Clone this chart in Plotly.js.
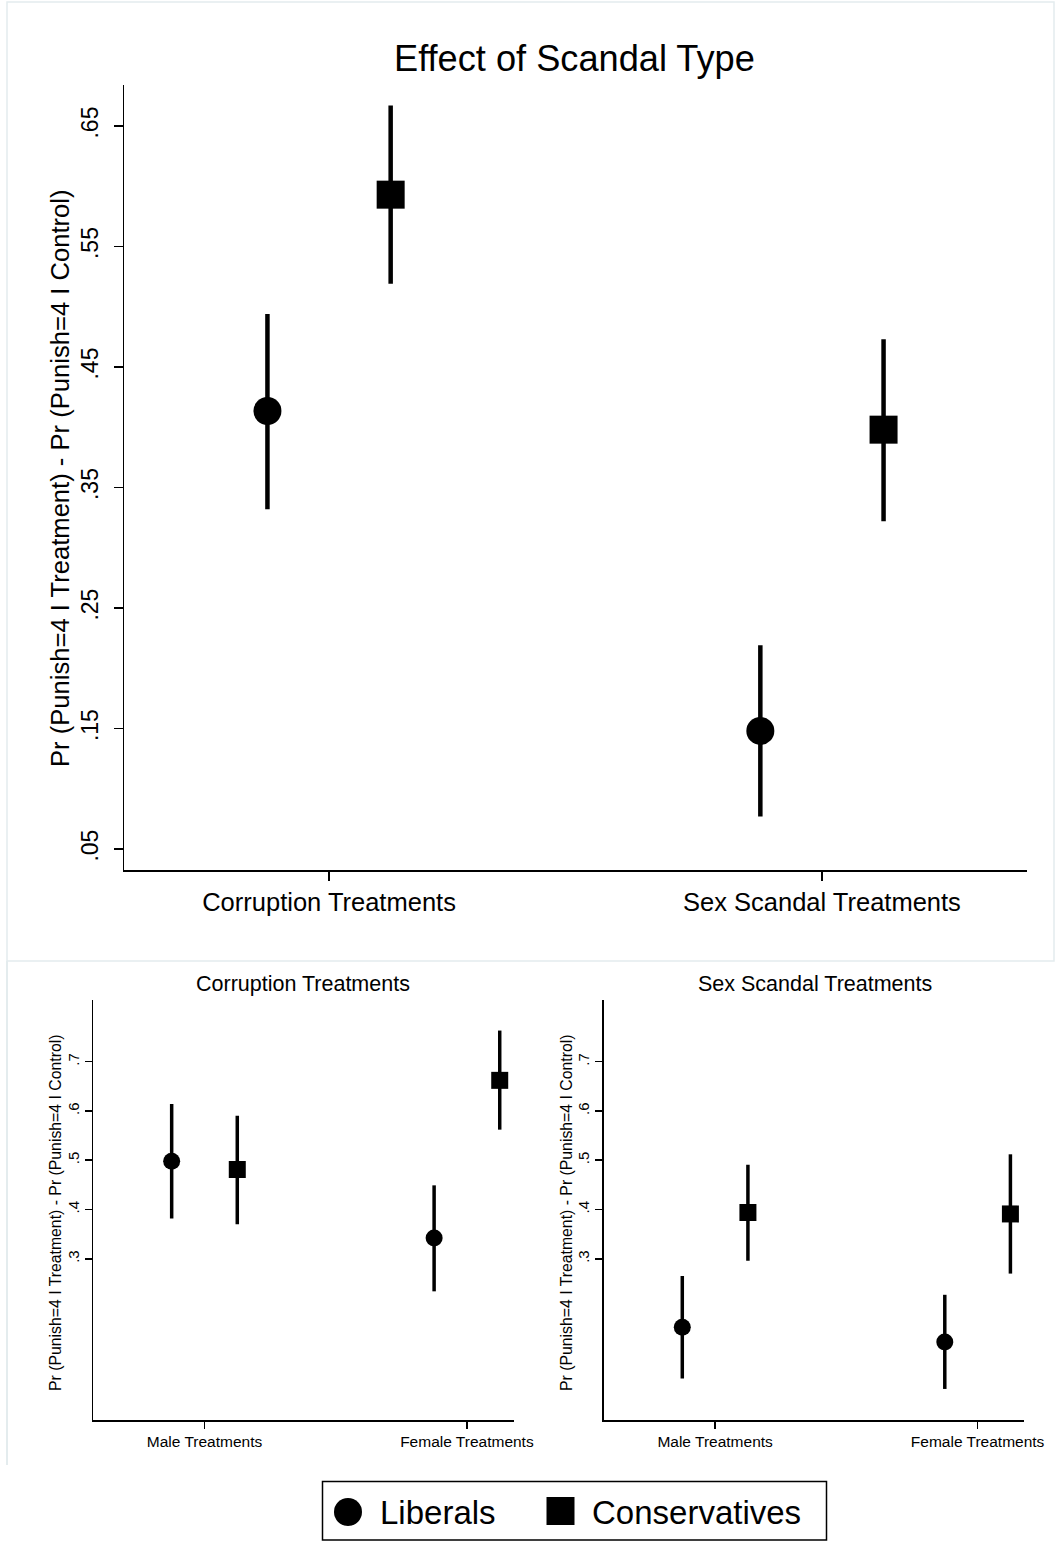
<!DOCTYPE html>
<html>
<head>
<meta charset="utf-8">
<script src="https://cdn.plot.ly/plotly-3.0.1.min.js"></script>
<style>html,body{margin:0;padding:0;background:#fff;}</style>
</head>
<body>
<div id="chart" style="width:1055px;height:1545px;"></div>
<script>
// ---------- DATA ----------
const topCategories = ["Corruption Treatments", "Sex Scandal Treatments"];
const topLib   = [0.4135, 0.148];
const topLibLo = [0.332, 0.077];
const topLibHi = [0.494, 0.219];
const topCon   = [0.593, 0.398];
const topConLo = [0.519, 0.322];
const topConHi = [0.667, 0.473];

const subCategories = ["Male Treatments", "Female Treatments"];
// Corruption treatments panel
const corrLib   = [0.498, 0.342];
const corrLibLo = [0.382, 0.234];
const corrLibHi = [0.614, 0.449];
const corrCon   = [0.481, 0.662];
const corrConLo = [0.370, 0.562];
const corrConHi = [0.590, 0.763];
// Sex scandal treatments panel
const sexLib   = [0.161, 0.131];
const sexLibLo = [0.057, 0.036];
const sexLibHi = [0.265, 0.227];
const sexCon   = [0.394, 0.391];
const sexConLo = [0.296, 0.270];
const sexConHi = [0.491, 0.512];

const topTickVals = [0.05, 0.15, 0.25, 0.35, 0.45, 0.55, 0.65];
const topTickText = [".05", ".15", ".25", ".35", ".45", ".55", ".65"];
const subTickVals = [0.3, 0.4, 0.5, 0.6, 0.7];
const subTickText = [".3", ".4", ".5", ".6", ".7"];

const seriesNames = ["Liberals", "Conservatives"];
const mainTitle = "Effect of Scandal Type";
const panelTitles = ["Corruption Treatments", "Sex Scandal Treatments"];
const yTitle = "Pr (Punish=4 I Treatment) - Pr (Punish=4 I Control)";

// ---------- BUILD ----------
const W = 1055, H = 1545;
const FONT = "Liberation Sans, Arial, Helvetica, sans-serif";
const OFFSET = 0.125;
const px = v => v / W;
const py = v => 1 - v / H;

function mkTrace(cats, vals, lo, hi, shift, symbol, size, thick, xa, ya, name) {
  return {
    type: "scatter", mode: "markers",
    x: cats.map((c, i) => i + 1 + shift),
    y: vals,
    name: name, showlegend: false,
    xaxis: xa, yaxis: ya,
    marker: {symbol: symbol, size: size, color: "black", line: {width: 0}},
    error_y: {
      type: "data", symmetric: false,
      array: vals.map((v, i) => hi[i] - v),
      arrayminus: vals.map((v, i) => v - lo[i]),
      color: "black", thickness: thick, width: 0
    },
    hoverinfo: "x+y"
  };
}

const data = [
  mkTrace(topCategories, topLib, topLibLo, topLibHi, -OFFSET, "circle", 28, 4.5, "x", "y", seriesNames[0]),
  mkTrace(topCategories, topCon, topConLo, topConHi, OFFSET, "square", 28, 4.5, "x", "y", seriesNames[1]),
  mkTrace(subCategories, corrLib, corrLibLo, corrLibHi, -OFFSET, "circle", 17, 3.5, "x2", "y2", seriesNames[0]),
  mkTrace(subCategories, corrCon, corrConLo, corrConHi, OFFSET, "square", 17, 3.5, "x2", "y2", seriesNames[1]),
  mkTrace(subCategories, sexLib, sexLibLo, sexLibHi, -OFFSET, "circle", 17, 3.5, "x3", "y3", seriesNames[0]),
  mkTrace(subCategories, sexCon, sexConLo, sexConHi, OFFSET, "square", 17, 3.5, "x3", "y3", seriesNames[1])
];

function xAx(domain, range, cats, fsize, tlen, anchor) {
  return {
    domain: domain, range: range, anchor: anchor,
    tickmode: "array", tickvals: cats.map((c, i) => i + 1), ticktext: cats,
    ticks: "outside", ticklen: tlen, tickwidth: 1.5, tickcolor: "black",
    showline: true, linecolor: "black", linewidth: 1.5,
    showgrid: false, zeroline: false,
    tickfont: {family: FONT, size: fsize, color: "black"},
    fixedrange: true
  };
}
function yAx(domain, range, tv, tt, fsize, tlen, anchor, standoff) {
  return {
    domain: domain, range: range, anchor: anchor,
    tickmode: "array", tickvals: tv, ticktext: tt, tickangle: -90,
    ticks: "outside", ticklen: tlen, tickwidth: 1.5, tickcolor: "black",
    showline: true, linecolor: "black", linewidth: 1.5,
    showgrid: false, zeroline: false,
    ticklabelstandoff: standoff,
    tickfont: {family: FONT, size: fsize, color: "black"},
    fixedrange: true
  };
}

const yTop = [py(870), py(85)];
const ySub = [py(1420), py(1000)];

const layout = {
  width: W, height: H,
  margin: {l: 0, r: 0, t: 0, b: 0, pad: 0},
  paper_bgcolor: "white", plot_bgcolor: "white",
  showlegend: false,
  font: {family: FONT, color: "black"},
  xaxis:  xAx([px(124), px(1027)], [0.584, 2.416], topCategories, 25.5, 9, "y"),
  yaxis:  yAx(yTop, [0.0326, 0.684], topTickVals, topTickText, 23, 9, "x", 6),
  xaxis2: xAx([px(93.2), px(513.5)], [0.576, 2.1775], subCategories, 15.5, 7, "y2"),
  yaxis2: yAx(ySub, [-0.027, 0.825], subTickVals, subTickText, 15, 7, "x2", 0),
  xaxis3: xAx([px(603.7), px(1023.8)], [0.5756, 2.176], subCategories, 15.5, 7, "y3"),
  yaxis3: yAx(ySub, [-0.027, 0.825], subTickVals, subTickText, 15, 7, "x3", 0),
  annotations: [
    {text: mainTitle, xref: "paper", yref: "paper", x: px(574.5), y: py(58),
     xanchor: "center", yanchor: "middle", showarrow: false,
     font: {family: FONT, size: 36.2, color: "black"}},
    {text: yTitle, xref: "paper", yref: "paper", x: px(60), y: py(478), textangle: -90,
     xanchor: "center", yanchor: "middle", showarrow: false,
     font: {family: FONT, size: 25.6, color: "black"}},
    {text: panelTitles[0], xref: "paper", yref: "paper", x: px(303), y: py(984),
     xanchor: "center", yanchor: "middle", showarrow: false,
     font: {family: FONT, size: 21.5, color: "black"}},
    {text: panelTitles[1], xref: "paper", yref: "paper", x: px(815), y: py(984),
     xanchor: "center", yanchor: "middle", showarrow: false,
     font: {family: FONT, size: 21.5, color: "black"}},
    {text: yTitle, xref: "paper", yref: "paper", x: px(55.5), y: py(1213.5), textangle: -90,
     xanchor: "center", yanchor: "middle", showarrow: false,
     font: {family: FONT, size: 15.8, color: "black"}},
    {text: yTitle, xref: "paper", yref: "paper", x: px(566.5), y: py(1213.5), textangle: -90,
     xanchor: "center", yanchor: "middle", showarrow: false,
     font: {family: FONT, size: 15.8, color: "black"}},
    // legend labels
    {text: seriesNames[0], xref: "paper", yref: "paper", x: px(378), y: py(1512),
     xanchor: "left", yanchor: "middle", showarrow: false,
     font: {family: FONT, size: 33, color: "black"}},
    {text: seriesNames[1], xref: "paper", yref: "paper", x: px(590), y: py(1512),
     xanchor: "left", yanchor: "middle", showarrow: false,
     font: {family: FONT, size: 33, color: "black"}}
  ],
  shapes: [
    // faint panel frames
    {type: "rect", xref: "paper", yref: "paper", x0: px(7), x1: px(1054), y0: py(961), y1: py(2),
     line: {color: "#e4ecee", width: 1.5}, fillcolor: "rgba(0,0,0,0)", layer: "below"},
    {type: "line", xref: "paper", yref: "paper", x0: px(7), x1: px(7), y0: py(961), y1: py(1465),
     line: {color: "#e4ecee", width: 2}, layer: "below"},
    // legend box
    {type: "rect", xref: "paper", yref: "paper", x0: px(322.5), x1: px(826.5), y0: py(1540), y1: py(1481.5),
     line: {color: "black", width: 1.5}, fillcolor: "white"},
    // legend symbols
    {type: "circle", xref: "paper", yref: "paper", x0: px(334), x1: px(362), y0: py(1526), y1: py(1498),
     line: {color: "black", width: 0}, fillcolor: "black"},
    {type: "rect", xref: "paper", yref: "paper", x0: px(546.5), x1: px(574.5), y0: py(1525), y1: py(1497),
     line: {color: "black", width: 0}, fillcolor: "black"}
  ]
};

Plotly.newPlot("chart", data, layout, {displayModeBar: false, staticPlot: true});
</script>
</body>
</html>
